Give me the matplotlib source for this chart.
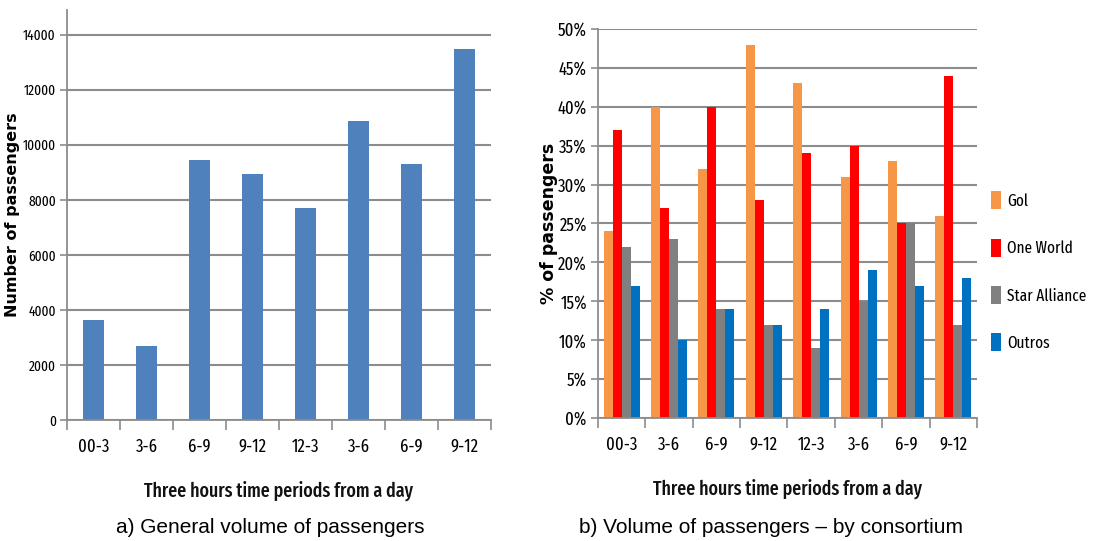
import matplotlib
matplotlib.use("Agg")
import matplotlib.pyplot as plt
import numpy as np
from matplotlib.ticker import FuncFormatter

periods = ["00-3", "3-6", "6-9", "9-12", "12-3", "3-6", "6-9", "9-12"]
total_passengers = [3650, 2700, 9450, 8950, 7700, 10850, 9300, 13500]

consortia = ["Gol", "One World", "Star Alliance", "Outros"]
gol = [24, 40, 32, 48, 43, 31, 33, 26]
one_world = [37, 27, 40, 28, 34, 35, 25, 44]
star_alliance = [22, 23, 14, 12, 9, 15, 25, 12]
outros = [17, 10, 14, 12, 14, 19, 17, 18]
colors = ["#F79646", "#FF0000", "#808080", "#0070C0"]

NARROW = ["Fira Sans Extra Condensed", "Fira Sans Condensed", "Archivo Narrow", "DejaVu Sans"]
GRID = "#8C8C8C"

fig = plt.figure(figsize=(10.94, 5.41), dpi=100)

def style(ax):
    for s in ["top", "right"]:
        ax.spines[s].set_visible(False)
    ax.spines["left"].set_color(GRID)
    ax.spines["bottom"].set_color(GRID)
    ax.spines["left"].set_linewidth(1.3)
    ax.spines["bottom"].set_linewidth(1.3)
    ax.yaxis.grid(True, color=GRID, linewidth=1.5)
    ax.set_axisbelow(True)
    n = len(periods)
    ax.set_xlim(-0.5, n - 0.5)
    ax.set_xticks(np.arange(n))
    ax.set_xticklabels(periods, fontfamily=NARROW, fontsize=13)
    ax.set_xticks(np.arange(n + 1) - 0.5, minor=True)
    ax.tick_params(axis="x", which="major", length=0, pad=13)
    ax.tick_params(axis="x", which="minor", length=7, color=GRID, width=1.2, direction="out")
    ax.tick_params(axis="y", length=5, color=GRID, width=1.2, direction="out", pad=3)
    ax.set_xlabel("Three hours time periods from a day", fontfamily=NARROW,
                  fontsize=14, fontweight="medium", labelpad=18, color="#111111")

x = np.arange(len(periods))

# Left chart
ax1 = fig.add_axes([0.0612, 0.2237, 0.3876, 0.7578])
ax1.bar(x, total_passengers, width=0.4, color="#4F81BD")
ax1.set_ylim(0, 14900)
ax1.set_yticks(np.arange(0, 14001, 2000))
style(ax1)
for lab in ax1.get_yticklabels():
    lab.set_fontsize(10.5)
    lab.set_fontfamily(NARROW)
ax1.set_ylabel("Number of passengers", fontsize=11.5, fontweight="heavy",
               fontfamily="DejaVu Sans", va="center")
ax1.yaxis.set_label_coords(-0.128, 0.5)

# Right chart
ax2 = fig.add_axes([0.5466, 0.2274, 0.3464, 0.719])
w = 0.19
series = [gol, one_world, star_alliance, outros]
for i, (vals, name, c) in enumerate(zip(series, consortia, colors)):
    ax2.bar(x + (i - 1.5) * w, vals, width=w, color=c, label=name)
ax2.set_ylim(0, 50)
ax2.set_yticks(np.arange(0, 51, 5))
ax2.yaxis.set_major_formatter(FuncFormatter(lambda v, p: f"{int(v)}%"))
style(ax2)
for lab in ax2.get_yticklabels():
    lab.set_fontsize(13)
    lab.set_fontfamily(NARROW)
ax2.set_ylabel("% of passengers", fontsize=12.5, fontweight="heavy",
               fontfamily="DejaVu Sans", va="center")
ax2.yaxis.set_label_coords(-0.13, 0.5)
ax2.legend(loc="upper left", bbox_to_anchor=(1.02, 0.6), frameon=False,
           prop={"family": NARROW, "size": 12}, handlelength=0.6, handleheight=1.3,
           handletextpad=0.35, labelspacing=1.75, borderaxespad=0)

fig.text(0.247, 0.008, "a) General volume of passengers", fontsize=15,
         ha="center", va="bottom", fontfamily="Liberation Sans")
fig.text(0.705, 0.008, "b) Volume of passengers \u2013 by consortium", fontsize=15,
         ha="center", va="bottom", fontfamily="Liberation Sans")

fig.savefig("out.png", dpi=100)
